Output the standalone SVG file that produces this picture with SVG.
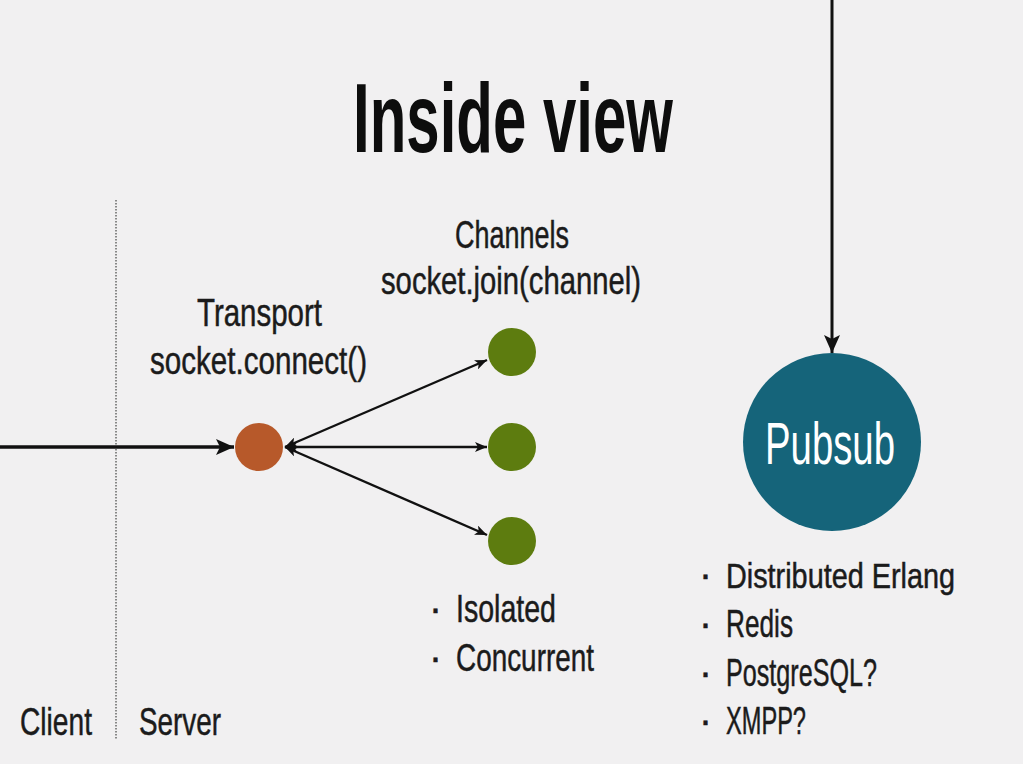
<svg xmlns="http://www.w3.org/2000/svg" width="1023" height="773" viewBox="0 0 1023 773">
<style>
.t{font-family:"Liberation Sans",Arial,sans-serif;fill:#1b1b1b;stroke:#1b1b1b;stroke-width:0.5;font-size:39px}
.title{font-family:"Liberation Sans",Arial,sans-serif;font-weight:700;fill:#0d0d0d;font-size:99px}
.w{font-family:"Liberation Sans",Arial,sans-serif;fill:#ffffff;font-size:60px}
.fan{stroke:#111;stroke-width:2.4;fill:none;marker-end:url(#ah);marker-start:url(#ahs)}
</style>
<defs>
<marker id="ah" viewBox="0 0 12 10" refX="12" refY="5" markerWidth="12" markerHeight="10" markerUnits="userSpaceOnUse" orient="auto"><path d="M0,0 L12,5 L0,10 L3,5 z" fill="#111"/></marker>
<marker id="ahs" viewBox="0 0 12 10" refX="0" refY="5" markerWidth="12" markerHeight="10" markerUnits="userSpaceOnUse" orient="auto"><path d="M12,0 L0,5 L12,10 L9,5 z" fill="#111"/></marker>
<marker id="big" viewBox="0 0 18 16" refX="18" refY="8" markerWidth="18" markerHeight="16" markerUnits="userSpaceOnUse" orient="auto"><path d="M0,0 L18,8 L0,16 L4,8 z" fill="#111"/></marker>
</defs>
<rect x="0" y="0" width="1023" height="773" fill="#ffffff"/>
<rect x="0" y="0" width="1023" height="764" fill="#f1f0f1"/>

<text class="title" x="353" y="152" textLength="320" lengthAdjust="spacingAndGlyphs">Inside view</text>

<g id="divider">
<line x1="116" y1="200" x2="116" y2="740" stroke="#666" stroke-width="1.5" stroke-dasharray="1.5,1.5"/>
<text class="t" x="20" y="735" textLength="72" lengthAdjust="spacingAndGlyphs">Client</text>
<text class="t" x="139" y="735" textLength="82" lengthAdjust="spacingAndGlyphs">Server</text>
</g>

<g id="connectors">
<line x1="0" y1="447" x2="234" y2="447" stroke="#111" stroke-width="3.5" marker-end="url(#big)"/>
<line x1="832" y1="0" x2="832" y2="353" stroke="#111" stroke-width="3" marker-end="url(#big)"/>
<line class="fan" x1="285" y1="447" x2="487" y2="360"/>
<line class="fan" x1="285" y1="447" x2="487" y2="447"/>
<line class="fan" x1="285" y1="447" x2="487" y2="535"/>
</g>

<g id="transport">
<circle cx="259" cy="447" r="24" fill="#b7592a"/>
<text class="t" x="197" y="326" textLength="125" lengthAdjust="spacingAndGlyphs">Transport</text>
<text class="t" x="150" y="374" textLength="217" lengthAdjust="spacingAndGlyphs">socket.connect()</text>
</g>

<g id="channels">
<circle cx="512" cy="352" r="24" fill="#5d7c0f"/>
<circle cx="512" cy="447" r="24" fill="#5d7c0f"/>
<circle cx="512" cy="541" r="24" fill="#5d7c0f"/>
<text class="t" x="455" y="248" textLength="114" lengthAdjust="spacingAndGlyphs">Channels</text>
<text class="t" x="381" y="294" textLength="260" lengthAdjust="spacingAndGlyphs">socket.join(channel)</text>
<text class="t" x="429" y="622">·</text>
<text class="t" x="456" y="622" textLength="100" lengthAdjust="spacingAndGlyphs">Isolated</text>
<text class="t" x="429" y="671">·</text>
<text class="t" x="456" y="671" textLength="138" lengthAdjust="spacingAndGlyphs">Concurrent</text>
</g>

<g id="pubsub">
<circle cx="832" cy="442" r="89" fill="#15647a"/>
<text class="w" x="765" y="464" textLength="130" lengthAdjust="spacingAndGlyphs">Pubsub</text>
<text class="t" x="699" y="588">·</text>
<text class="t" x="726" y="588" style="font-size:35px" textLength="229" lengthAdjust="spacingAndGlyphs">Distributed Erlang</text>
<text class="t" x="699" y="637">·</text>
<text class="t" x="726" y="637" textLength="67" lengthAdjust="spacingAndGlyphs">Redis</text>
<text class="t" x="699" y="686">·</text>
<text class="t" x="726" y="686" textLength="151" lengthAdjust="spacingAndGlyphs">PostgreSQL?</text>
<text class="t" x="699" y="734">·</text>
<text class="t" x="726" y="734" textLength="80" lengthAdjust="spacingAndGlyphs">XMPP?</text>
</g>
</svg>
